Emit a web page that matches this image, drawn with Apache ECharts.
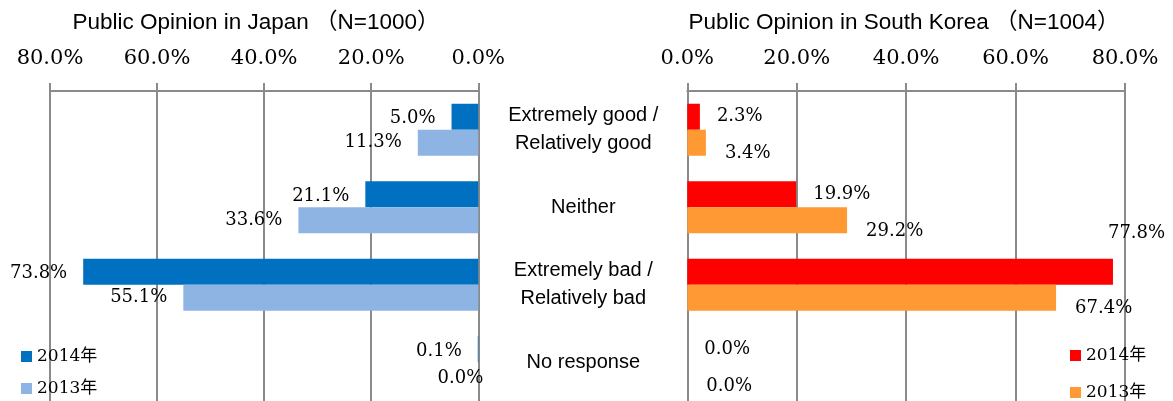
<!DOCTYPE html>
<html>
<head>
<meta charset="utf-8">
<script src="https://cdn.jsdelivr.net/npm/echarts@6/dist/echarts.min.js"></script>
<style>
html, body { margin: 0; padding: 0; background: #fff; }
#chart { width: 1173px; height: 401px; }
</style>
</head>
<body>
<div id="chart"></div>
<script>
var mychart = echarts.init(document.getElementById('chart'));

const categories = ['Extremely good /\nRelatively good', 'Neither', 'Extremely bad /\nRelatively bad', 'No response'];
const years = ['2014年', '2013年'];
const japan2014 = [5.0, 21.1, 73.8, 0.1];
const japan2013 = [11.3, 33.6, 55.1, 0.0];
const korea2014 = [2.3, 19.9, 77.8, 0.0];
const korea2013 = [3.4, 29.2, 67.4, 0.0];
const axisMax = 80;
const axisStep = 20;

const serif = 'DejaVu Serif, Noto Sans CJK JP, serif';
const sans = 'Liberation Sans, Arial, Noto Sans CJK JP, sans-serif';
const gridColor = '#8a8a8a';

function pct(v) {
    return v.toFixed(1) + '%';
}

function xAxisFor(idx, inverse) {
    return {
        type: 'value',
        gridIndex: idx,
        position: 'top',
        inverse: inverse,
        min: 0,
        max: axisMax,
        interval: axisStep,
        axisLine: { show: true, lineStyle: { color: gridColor, width: 2 } },
        axisTick: { show: true, length: 8, lineStyle: { color: gridColor, width: 2 } },
        splitLine: { show: true, lineStyle: { color: gridColor, width: 2 } },
        axisLabel: {
            margin: 22,
            fontFamily: serif,
            fontSize: 21,
            color: '#000',
            formatter: pct
        }
    };
}

// label tweaks: Excel put a couple of labels in odd spots
function barSeries(name, values, idx, color, pos, dist, dy, special) {
    return {
        name: name,
        type: 'bar',
        xAxisIndex: idx,
        yAxisIndex: idx,
        barWidth: 26,
        barGap: '0%',
        itemStyle: { color: color },
        label: {
            show: true,
            position: pos,
            distance: dist,
            offset: [0, dy],
            fontFamily: serif,
            fontSize: 18,
            color: '#000',
            formatter: function (p) { return pct(p.value); }
        },
        data: values.map(function (v, i) {
            if (special && special[i]) {
                return { value: v, label: { offset: special[i] } };
            }
            return v;
        })
    };
}

option = {
    backgroundColor: '#fff',
    animation: false,
    title: [
        {
            text: 'Public Opinion in Japan （N=1000）',
            left: 256,
            top: 12,
            padding: 0,
            textAlign: 'center',
            textStyle: { fontFamily: sans, fontSize: 22.5, fontWeight: 'normal', color: '#000' }
        },
        {
            text: 'Public Opinion in South Korea （N=1004）',
            left: 904,
            top: 12,
            padding: 0,
            textAlign: 'center',
            textStyle: { fontFamily: sans, fontSize: 22.5, fontWeight: 'normal', color: '#000' }
        }
    ],
    legend: [
        {
            orient: 'vertical',
            left: 21,
            top: 348,
            padding: 0,
            itemGap: 15,
            itemWidth: 11,
            itemHeight: 11,
            icon: 'rect',
            textStyle: { fontFamily: serif, fontSize: 17, color: '#000' },
            data: [
                { name: years[0], itemStyle: { color: '#0070C0' } },
                { name: years[1], itemStyle: { color: '#8EB4E3' } }
            ]
        },
        {
            orient: 'vertical',
            left: 1070,
            top: 347,
            padding: 0,
            itemGap: 20,
            itemWidth: 11,
            itemHeight: 11,
            icon: 'rect',
            textStyle: { fontFamily: serif, fontSize: 17, color: '#000' },
            data: [
                { name: years[0], itemStyle: { color: '#FF0000' } },
                { name: years[1], itemStyle: { color: '#FF9933' } }
            ]
        }
    ],
    grid: [
        { left: 50, width: 428.3, top: 91, height: 314 },
        { left: 687.3, width: 437.7, top: 91, height: 314 }
    ],
    xAxis: [xAxisFor(0, true), xAxisFor(1, false)],
    yAxis: [
        {
            type: 'category',
            gridIndex: 0,
            inverse: true,
            position: 'right',
            data: categories,
            axisLine: { show: false },
            axisTick: { show: false },
            splitLine: { show: false },
            axisLabel: {
                margin: 105,
                align: 'center',
                fontFamily: sans,
                fontSize: 20,
                lineHeight: 28,
                color: '#000',
                padding: [0, 0, 20, 0]
            }
        },
        {
            type: 'category',
            gridIndex: 1,
            inverse: true,
            data: categories,
            axisLine: { show: false },
            axisTick: { show: false },
            splitLine: { show: false },
            axisLabel: { show: false }
        }
    ],
    series: [
        barSeries(years[0], japan2014, 0, '#0070C0', 'left', 16, 2),
        barSeries(years[1], japan2013, 0, '#8EB4E3', 'left', 16, 0, { 3: [21, 3] }),
        barSeries(years[0], korea2014, 1, '#FF0000', 'right', 17, 0, { 2: [-22, -38] }),
        barSeries(years[1], korea2013, 1, '#FF9933', 'right', 19, 11)
    ]
};
mychart.setOption(option, true);
</script>
</body>
</html>
